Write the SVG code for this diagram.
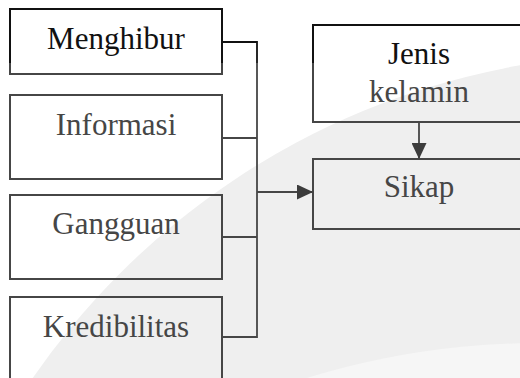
<svg xmlns="http://www.w3.org/2000/svg" width="520" height="378" viewBox="0 0 520 378">
  <defs>
    <linearGradient id="ink" gradientUnits="userSpaceOnUse" x1="0" y1="0" x2="0" y2="378">
      <stop offset="0" stop-color="#111"/>
      <stop offset="0.166" stop-color="#111"/>
      <stop offset="0.168" stop-color="#464646"/>
      <stop offset="1" stop-color="#464646"/>
    </linearGradient>
    <marker id="arrow" viewBox="0 0 16 15" refX="16" refY="7.5" markerWidth="16" markerHeight="15" markerUnits="userSpaceOnUse" orient="auto">
      <path d="M0,0 L16,7.5 L0,15 Z" fill="#3c3c3c"/>
    </marker>
  </defs>
  <style>
    .box { fill: none; stroke: url(#ink); stroke-width: 2; }
    .conn { fill: none; stroke: url(#ink); stroke-width: 1.8; }
  </style>

  <rect x="0" y="0" width="520" height="378" fill="#ffffff"/>
  <circle cx="650" cy="804" r="750" fill="#efefef"/>
  <circle cx="540" cy="1138" r="795" fill="#f6f6f6"/>

  <g font-family="Liberation Serif" font-size="31" text-anchor="middle">
    <g id="menghibur">
      <rect class="box" x="10" y="9" width="212" height="65"/>
      <text x="116" y="49" fill="#111">Menghibur</text>
    </g>
    <g id="informasi">
      <rect class="box" x="10" y="95" width="212" height="84"/>
      <text x="116" y="135" fill="#464646">Informasi</text>
    </g>
    <g id="gangguan">
      <rect class="box" x="10" y="195" width="212" height="84"/>
      <text x="116" y="234" fill="#464646">Gangguan</text>
    </g>
    <g id="kredibilitas">
      <rect class="box" x="10" y="297" width="212" height="110"/>
      <text x="116" y="337" fill="#464646">Kredibilitas</text>
    </g>
    <g id="jenis-kelamin">
      <rect class="box" x="313" y="25" width="214" height="97"/>
      <text x="419" y="64" fill="#111">Jenis</text>
      <text x="419" y="102" fill="#464646">kelamin</text>
    </g>
    <g id="sikap">
      <rect class="box" x="313" y="159" width="214" height="70"/>
      <text x="419" y="197" fill="#464646">Sikap</text>
    </g>
  </g>

  <g id="connectors">
    <path class="conn" d="M222,42 H257 V337 H222"/>
    <path class="conn" d="M222,138 H257"/>
    <path class="conn" d="M222,237 H257"/>
    <path class="conn" d="M257,192 H313" marker-end="url(#arrow)"/>
    <path class="conn" d="M419,122 V159" marker-end="url(#arrow)"/>
  </g>
</svg>
